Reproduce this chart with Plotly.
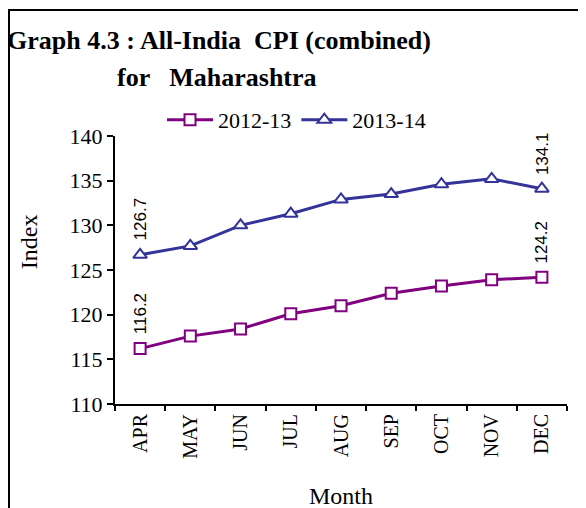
import plotly.graph_objects as go

months = ["APR", "MAY", "JUN", "JUL", "AUG", "SEP", "OCT", "NOV", "DEC"]
cpi_2012_13 = [116.2, 117.6, 118.4, 120.1, 121.0, 122.4, 123.2, 123.9, 124.2]
cpi_2013_14 = [126.7, 127.7, 130.0, 131.3, 132.9, 133.5, 134.6, 135.2, 134.1]

SERIF = "Liberation Serif, Times New Roman, serif"
SANS = "Liberation Sans, Arial, sans-serif"

fig = go.Figure()

fig.add_trace(go.Scatter(
    x=months, y=cpi_2012_13, name="2012-13", mode="lines+markers",
    line=dict(color="#800080", width=3),
    marker=dict(symbol="square", size=11, color="white",
                line=dict(color="#800080", width=2)),
))
fig.add_trace(go.Scatter(
    x=months, y=cpi_2013_14, name="2013-14", mode="lines+markers",
    line=dict(color="#333399", width=3),
    marker=dict(symbol="triangle-up", size=12, color="white",
                line=dict(color="#333399", width=2)),
))

# rotated value labels on first and last points
for series in (cpi_2012_13, cpi_2013_14):
    for i in (0, len(months) - 1):
        fig.add_annotation(
            x=months[i], y=series[i], text=f"{series[i]:.1f}",
            textangle=-90, showarrow=False, xanchor="center", yanchor="bottom",
            yshift=12, font=dict(family=SANS, size=17, color="black"),
        )

# title (two lines), axis titles
fig.add_annotation(xref="paper", yref="paper", x=-0.243, y=1.358,
                   xanchor="left", yanchor="middle", showarrow=False,
                   text="<b>Graph 4.3 : All-India  CPI (combined)</b>",
                   font=dict(family=SERIF, size=26, color="black"))
fig.add_annotation(xref="paper", yref="paper", x=0.0, y=1.22,
                   xanchor="left", yanchor="middle", showarrow=False,
                   text="<b>for   Maharashtra</b>",
                   font=dict(family=SERIF, size=26, color="black"))
fig.add_annotation(xref="paper", yref="paper", x=0.5, y=-0.343,
                   xanchor="center", yanchor="middle", showarrow=False,
                   text="Month", font=dict(family=SERIF, size=24, color="black"))
fig.add_annotation(xref="paper", yref="paper", x=-0.19, y=0.604,
                   xanchor="center", yanchor="middle", showarrow=False,
                   text="Index", textangle=-90,
                   font=dict(family=SERIF, size=24, color="black"))

# outer frame (runs off the right and bottom edges like the source)
fig.add_shape(type="rect", xref="paper", yref="paper",
              x0=-0.2345, x1=1.2, y0=-0.6, y1=1.47,
              line=dict(color="black", width=2))

# page body has an 8px margin, so the figure is 8px smaller than the window
fig.update_layout(
    width=578, height=500,
    margin=dict(l=107, r=19, t=128, b=104),
    paper_bgcolor="white", plot_bgcolor="white",
    font=dict(family=SERIF, color="black"),
    showlegend=True,
    legend=dict(orientation="h", x=0.104, y=1.06, xanchor="left", yanchor="middle",
                font=dict(family=SERIF, size=22), bgcolor="rgba(0,0,0,0)",
                itemwidth=46),
)
fig.update_xaxes(
    type="category", tickson="boundaries", ticks="outside", ticklen=5,
    tickwidth=2, tickcolor="black", showline=True, linecolor="black", linewidth=2,
    showgrid=False, tickangle=-90, tickfont=dict(family=SERIF, size=20),
    range=[-0.5, len(months) - 0.5],
)
fig.update_yaxes(
    range=[110, 140], dtick=5, ticks="outside", ticklen=6, tickwidth=2,
    tickcolor="black", showline=True, linecolor="black", linewidth=2,
    showgrid=False, zeroline=False, tickfont=dict(family=SERIF, size=22),
)

fig.write_html("out.html")
